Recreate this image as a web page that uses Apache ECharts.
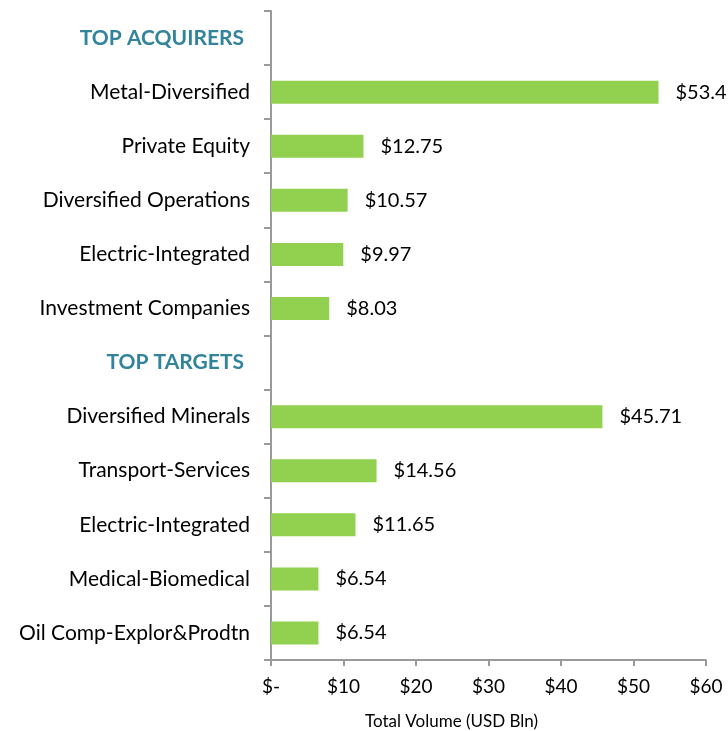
<!DOCTYPE html>
<html>
<head>
<meta charset="utf-8">
<script src="https://cdn.jsdelivr.net/npm/echarts@6/dist/echarts.min.js"></script>
<style>
html,body{margin:0;padding:0;background:#fff;}
#main{width:728px;height:731px;}
</style>
</head>
<body>
<div id="main"></div>
<script>
var categories = ['TOP ACQUIRERS','Metal-Diversified','Private Equity','Diversified Operations','Electric-Integrated','Investment Companies','TOP TARGETS','Diversified Minerals','Transport-Services','Electric-Integrated ','Medical-Biomedical','Oil Comp-Explor&Prodtn'];
var headers = ['TOP ACQUIRERS','TOP TARGETS'];
var values = ['-',53.45,12.75,10.57,9.97,8.03,'-',45.71,14.56,11.65,6.54,6.54];
var xTickLabels = ['$-','$10','$20','$30','$40','$50','$60'];

var FONT = 'Lato';
var chart = echarts.init(document.getElementById('main'));
chart.setOption({
  animation:false,
  backgroundColor:'#ffffff',
  grid:{left:271,right:22,top:11,bottom:71,containLabel:false,outerBoundsMode:'none'},
  xAxis:{
    type:'value',min:0,max:60,interval:10,
    name:'Total Volume (USD Bln)',nameLocation:'middle',nameGap:53,
    nameTextStyle:{fontFamily:FONT,fontSize:17,color:'#000',padding:[0,74,0,0]},
    axisLine:{show:true,lineStyle:{color:'#9a9a9a',width:2}},
    axisTick:{show:true,length:6,lineStyle:{color:'#9a9a9a',width:2}},
    splitLine:{show:false},
    axisLabel:{fontFamily:FONT,fontSize:19,color:'#000',margin:17,
      formatter:function(v){return xTickLabels[Math.round(v/10)];}}
  },
  yAxis:{
    type:'category',data:categories,inverse:true,
    axisLine:{show:true,lineStyle:{color:'#9a9a9a',width:2}},
    axisTick:{show:true,length:7,lineStyle:{color:'#9a9a9a',width:2}},
    axisLabel:{margin:21,fontFamily:FONT,fontSize:21,color:'#000',
      formatter:function(v){
        if(headers.indexOf(v)>=0) return '{h|'+v+'}';
        return v.trim();
      },
      rich:{h:{fontFamily:FONT,fontSize:21,fontWeight:'bold',color:'#31849B',padding:[0,6,0,0]}}
    }
  },
  series:[{
    type:'bar',data:values,barWidth:23,
    itemStyle:{color:'#92D050'},
    label:{show:true,position:'right',distance:17,fontFamily:FONT,fontSize:20,color:'#000',
      formatter:function(p){return '$'+Number(p.value).toFixed(2);}}
  }]
});
</script>
</body>
</html>
